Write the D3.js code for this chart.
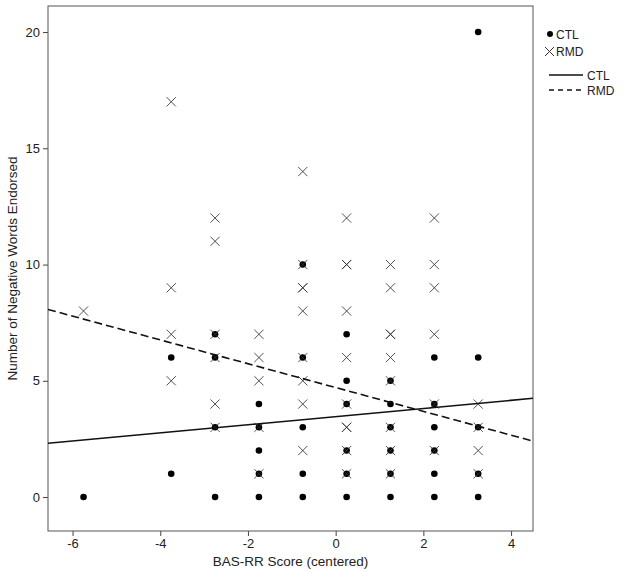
<!DOCTYPE html>
<html>
<head>
<meta charset="utf-8">
<script src="https://cdn.jsdelivr.net/npm/d3@7"></script>
<style>
  html, body { margin: 0; padding: 0; background: #fff; }
  svg { display: block; font-family: "Liberation Sans", Arial, sans-serif; }
</style>
</head>
<body>
<svg id="chart" width="624" height="573"></svg>
<script>
// ---- Data ----
const ctlX = [-5.75,
  -3.75, -3.75,
  -2.75, -2.75, -2.75, -2.75,
  -1.75, -1.75, -1.75, -1.75, -1.75,
  -0.75, -0.75, -0.75, -0.75, -0.75,
  0.25, 0.25, 0.25, 0.25, 0.25, 0.25,
  1.25, 1.25, 1.25, 1.25, 1.25, 1.25,
  2.25, 2.25, 2.25, 2.25, 2.25, 2.25,
  3.25, 3.25, 3.25, 3.25, 3.25];
const ctlY = [0,
  6, 1,
  7, 6, 3, 0,
  4, 3, 2, 1, 0,
  10, 6, 3, 1, 0,
  7, 5, 4, 2, 1, 0,
  5, 4, 3, 2, 1, 0,
  6, 4, 3, 2, 1, 0,
  20, 6, 3, 1, 0];

const rmdX = [-5.75,
  -3.75, -3.75, -3.75, -3.75,
  -2.75, -2.75, -2.75, -2.75, -2.75, -2.75,
  -1.75, -1.75, -1.75, -1.75, -1.75,
  -0.75, -0.75, -0.75, -0.75, -0.75, -0.75, -0.75, -0.75, -0.75,
  0.25, 0.25, 0.25, 0.25, 0.25, 0.25, 0.25, 0.25, 0.25, 0.25,
  1.25, 1.25, 1.25, 1.25, 1.25, 1.25, 1.25, 1.25, 1.25,
  2.25, 2.25, 2.25, 2.25, 2.25, 2.25,
  3.25, 3.25, 3.25, 3.25];
const rmdY = [8,
  17, 9, 7, 5,
  12, 11, 7, 6, 4, 3,
  7, 6, 5, 3, 1,
  14, 10, 9, 9, 8, 6, 5, 4, 2,
  12, 10, 10, 8, 6, 4, 3, 3, 2, 1,
  10, 9, 7, 7, 6, 5, 3, 2, 1,
  12, 10, 9, 7, 4, 2,
  4, 3, 2, 1];

// fit lines
const lineNames = ["CTL", "RMD"];
const lineIntercepts = [3.46, 4.71];
const lineSlopes = [0.175, -0.512];

const xTicks = [-6, -4, -2, 0, 2, 4];
const yTicks = [0, 5, 10, 15, 20];
const xDomain = [-6.56, 4.5];
const yDomain = [-1.46, 21.12];
const xTitle = "BAS-RR Score (centered)";
const yTitle = "Number of Negative Words Endorsed";

// ---- Layout ----
const svg = d3.select("#chart");
const L = 48, R = 533, T = 6, B = 531;
const x = d3.scaleLinear().domain(xDomain).range([L, R]);
const y = d3.scaleLinear().domain(yDomain).range([B, T]);

svg.append("defs").append("clipPath").attr("id", "clip")
  .append("rect").attr("x", L).attr("y", T).attr("width", R - L).attr("height", B - T);

// axes
const xAxis = svg.append("g").attr("transform", `translate(0,${B})`)
  .call(d3.axisBottom(x).tickValues(xTicks).tickSize(5).tickPadding(3).tickFormat(d3.format("d")));
const yAxis = svg.append("g").attr("transform", `translate(${L},0)`)
  .call(d3.axisLeft(y).tickValues(yTicks).tickSize(5).tickPadding(3).tickFormat(d3.format("d")));
[xAxis, yAxis].forEach(g => {
  g.select(".domain").remove();
  g.selectAll(".tick line").attr("stroke", "#444");
  g.selectAll(".tick text").attr("font-size", 13).attr("fill", "#222")
    .attr("font-family", "'Liberation Sans', Arial, sans-serif");
});
xAxis.selectAll(".tick text").text(d => d < 0 ? "-" + Math.abs(d) : d);

// frame
svg.append("rect").attr("x", L).attr("y", T).attr("width", R - L).attr("height", B - T)
  .attr("fill", "none").attr("stroke", "#555").attr("stroke-width", 1);

// titles
svg.append("text").attr("x", (L + R) / 2).attr("y", 566).attr("text-anchor", "middle")
  .attr("font-size", 13.5).attr("fill", "#222").text(xTitle);
svg.append("text").attr("transform", `translate(17,${(T + B) / 2}) rotate(-90)`)
  .attr("text-anchor", "middle").attr("font-size", 13.5).attr("fill", "#222").text(yTitle);

const plot = svg.append("g").attr("clip-path", "url(#clip)");

// CTL dots
const ctl = ctlX.map((v, i) => ({ x: v, y: ctlY[i] }));
plot.selectAll("circle.ctl").data(ctl).enter().append("circle")
  .attr("class", "ctl").attr("cx", d => x(d.x)).attr("cy", d => y(d.y))
  .attr("r", 3.3).attr("fill", "#000");

// RMD crosses
const rmd = rmdX.map((v, i) => ({ x: v, y: rmdY[i] }));
const s = 4.6;
plot.selectAll("path.rmd").data(rmd).enter().append("path")
  .attr("class", "rmd")
  .attr("d", d => {
    const cx = x(d.x), cy = y(d.y);
    return `M${cx - s},${cy - s}L${cx + s},${cy + s}M${cx - s},${cy + s}L${cx + s},${cy - s}`;
  })
  .attr("stroke", "#333").attr("stroke-width", 1).attr("fill", "none").attr("opacity", 0.85);

// fit lines
const lines = lineNames.map((n, i) => ({ name: n, a: lineIntercepts[i], b: lineSlopes[i] }));
plot.selectAll("line.fit").data(lines).enter().append("line")
  .attr("class", "fit")
  .attr("x1", x(xDomain[0])).attr("x2", x(xDomain[1]))
  .attr("y1", d => y(d.a + d.b * xDomain[0])).attr("y2", d => y(d.a + d.b * xDomain[1]))
  .attr("stroke", "#111").attr("stroke-width", 1.6)
  .attr("stroke-dasharray", (d, i) => i === 1 ? "8,4" : null);

// legend
const lg = svg.append("g").attr("font-size", 12).attr("fill", "#222");
lg.append("circle").attr("cx", 550).attr("cy", 34).attr("r", 3).attr("fill", "#000");
lg.append("text").attr("x", 556).attr("y", 38.5).text(lineNames[0]);
lg.append("path").attr("d", `M${549.5 - 4.5},${51.5 - 4.5}L${549.5 + 4.5},${51.5 + 4.5}M${549.5 - 4.5},${51.5 + 4.5}L${549.5 + 4.5},${51.5 - 4.5}`)
  .attr("stroke", "#333").attr("stroke-width", 1).attr("fill", "none");
lg.append("text").attr("x", 556).attr("y", 56).text(lineNames[1]);
lg.append("line").attr("x1", 549).attr("x2", 583).attr("y1", 75).attr("y2", 75)
  .attr("stroke", "#111").attr("stroke-width", 1.5);
lg.append("text").attr("x", 587).attr("y", 79.5).text(lineNames[0]);
lg.append("line").attr("x1", 549).attr("x2", 583).attr("y1", 90).attr("y2", 90)
  .attr("stroke", "#111").attr("stroke-width", 1.5).attr("stroke-dasharray", "5,4");
lg.append("text").attr("x", 587).attr("y", 94.5).text(lineNames[1]);
</script>
</body>
</html>
